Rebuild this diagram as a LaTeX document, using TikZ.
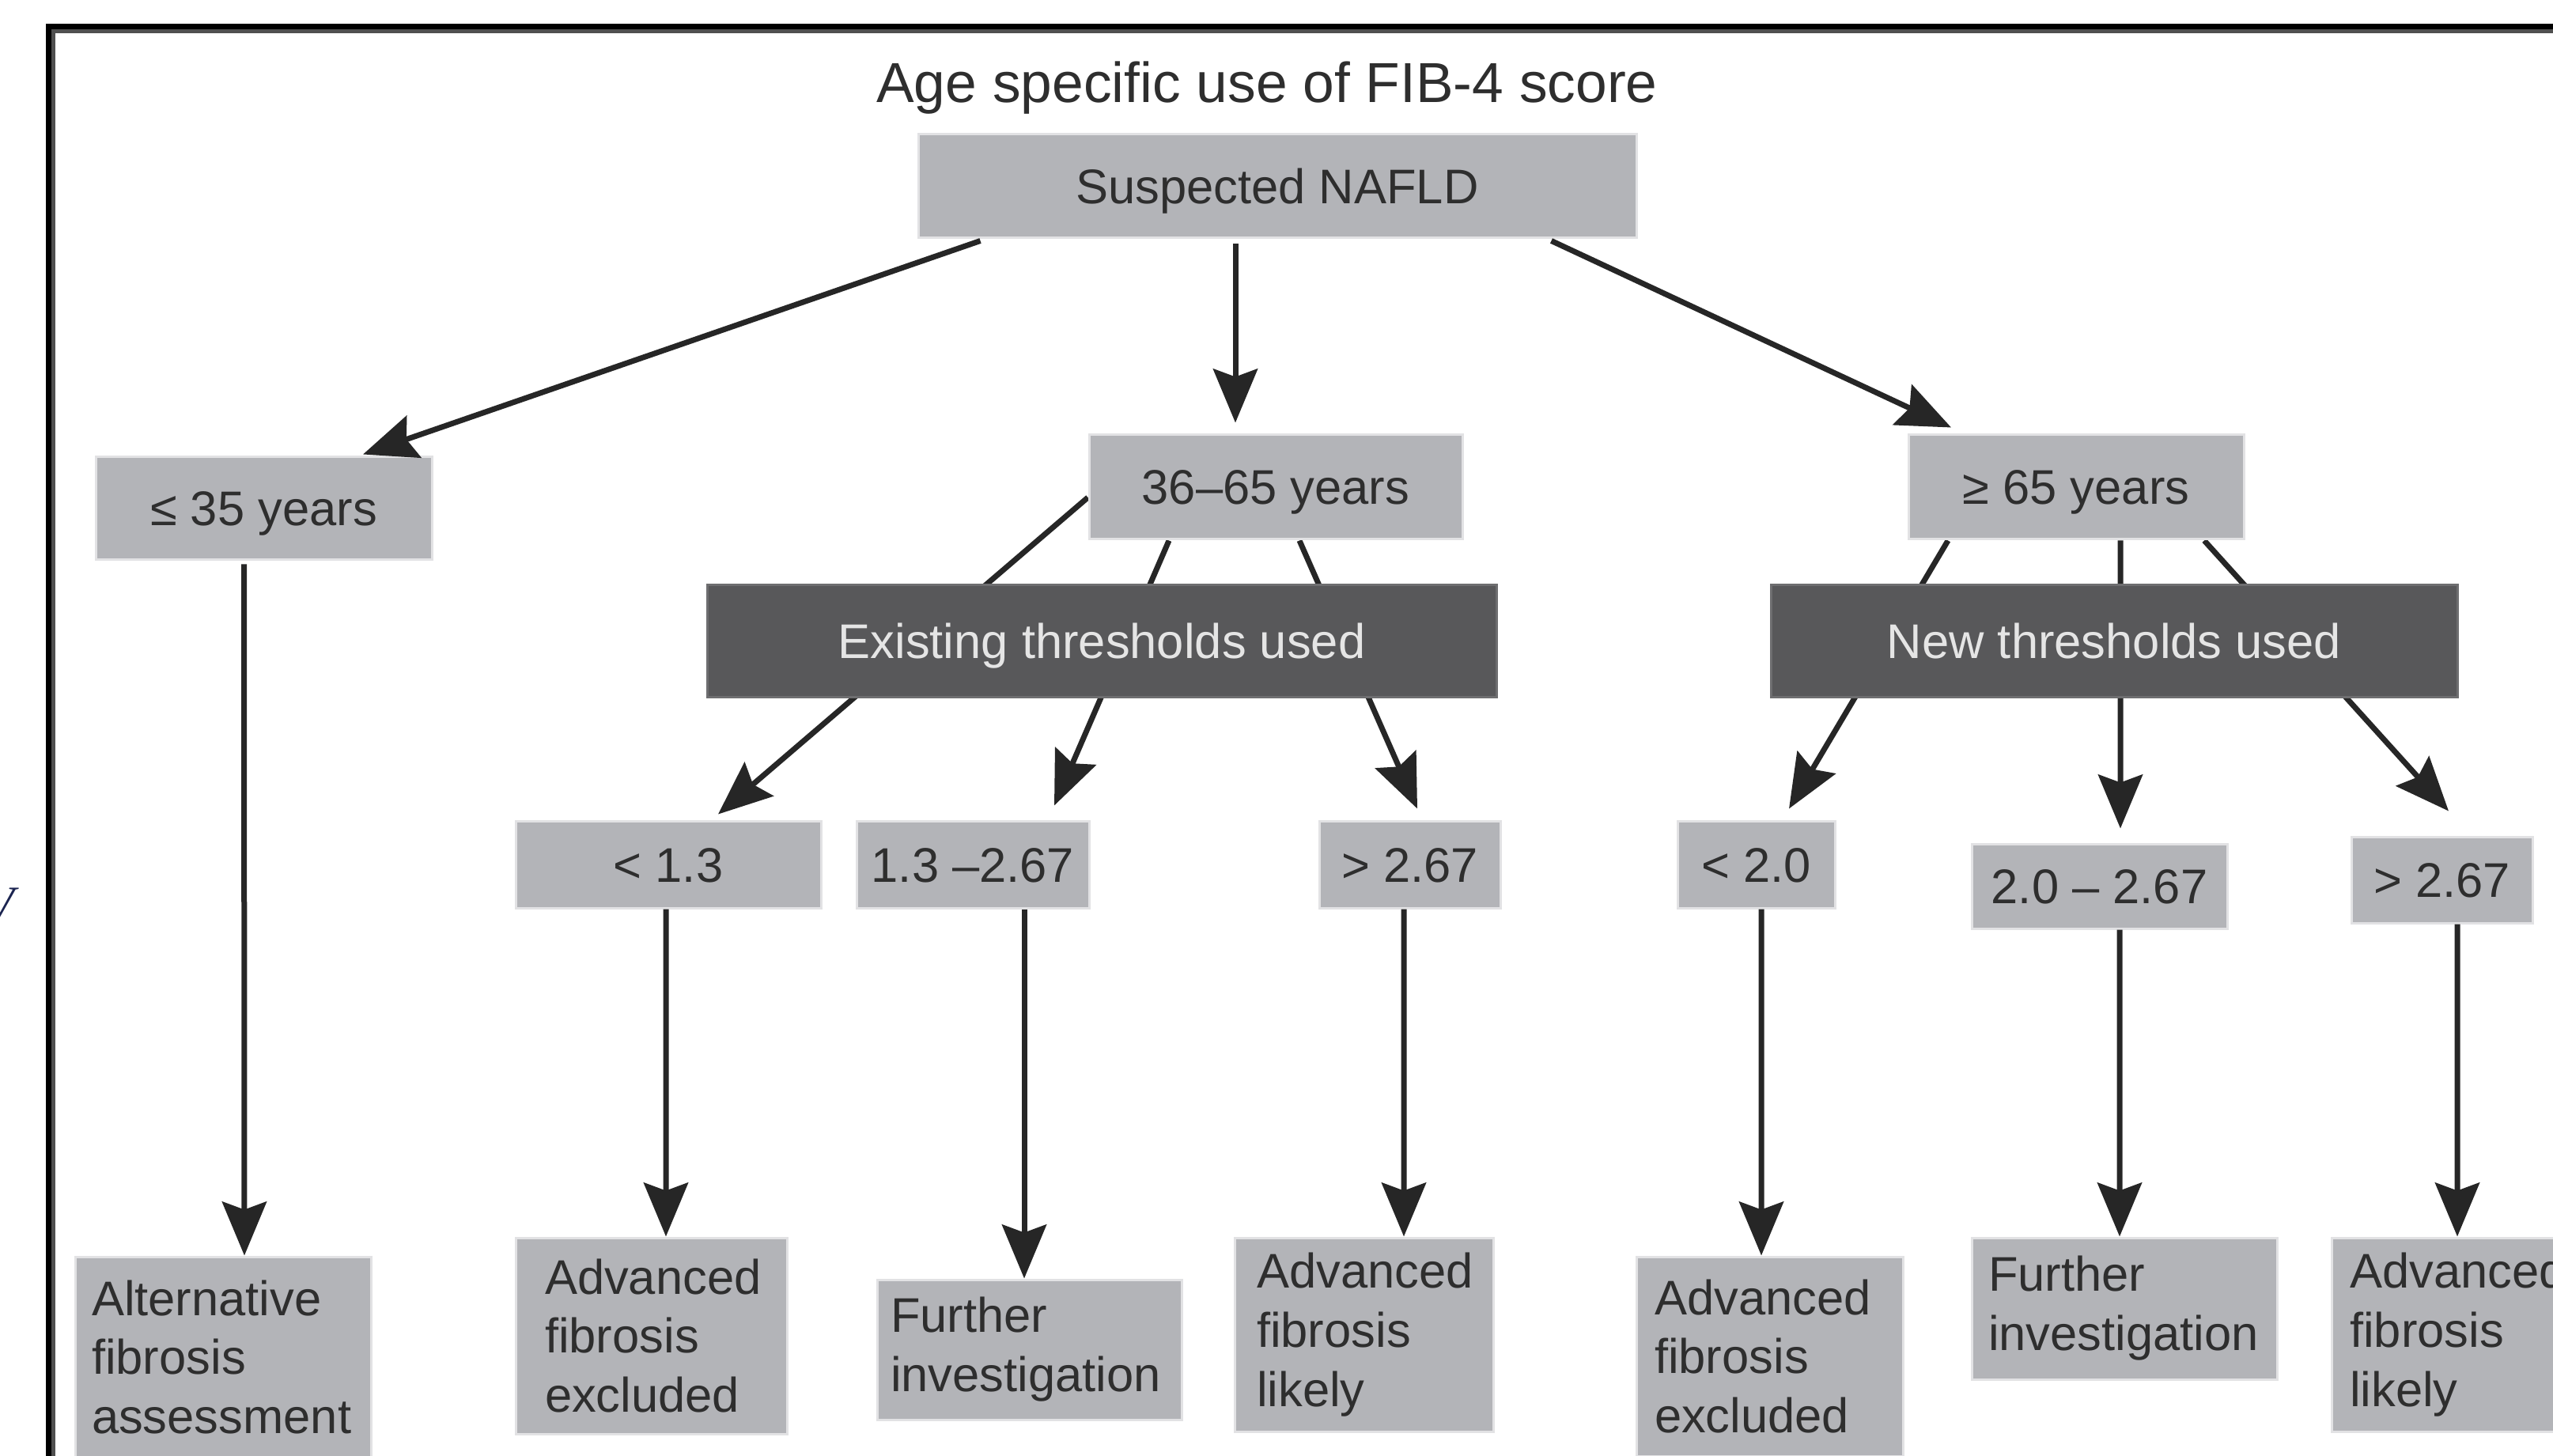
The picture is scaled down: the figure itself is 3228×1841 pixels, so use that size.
\documentclass[tikz,border=0pt]{standalone}
\usepackage{fontspec}
\setmainfont{Liberation Sans}
\newfontfamily\pageserif{Liberation Serif}
\usetikzlibrary{arrows.meta}
\usetikzlibrary{calc}
\usetikzlibrary{backgrounds}

\definecolor{boxgray}{HTML}{B3B4B8}
\definecolor{boxedge}{HTML}{E2E2E4}
\definecolor{darkfill}{HTML}{58585A}
\definecolor{darkedge}{HTML}{6E6E70}
\definecolor{inkgray}{HTML}{2E2E2E}
\definecolor{linegray}{HTML}{262626}
\definecolor{framegray}{HTML}{505050}
\definecolor{pagenavy}{HTML}{1B2450}

\begin{document}
\begin{tikzpicture}[x=0.1mm,y=-0.1mm,
  every node/.style={font=\fontsize{17.5}{21.3}\selectfont},
  lightbox/.style={fill=boxgray,draw=boxedge,line width=0.3mm,inner sep=0pt,text=inkgray,
    text height=4.4mm,text depth=0pt},
  darkbox/.style={fill=darkfill,draw=darkedge,line width=0.3mm,inner sep=0pt,text=white!90!black,
    text height=4.4mm,text depth=0pt},
  outbox/.style={fill=boxgray,draw=boxedge,line width=0.3mm,inner ysep=0pt,text=inkgray,align=left},
  arr/.style={draw=linegray,line width=0.7mm,-{Stealth[length=6.8mm,width=5.6mm,inset=1mm]}}]
  \useasboundingbox (0,0) rectangle (3228,1841);
  \draw[line width=0.7mm] (3260,34) -| (61.5,1860);
  \draw[line width=0.5mm,framegray] (3260,39.5) -| (67.5,1860);
  \node[font=\fontsize{17.2}{20}\selectfont\pageserif\itshape,text=pagenavy,anchor=base east,inner sep=0pt] (pagev) at (19,1162) {V};

  \node[font=\fontsize{20.3}{24}\selectfont,text=inkgray,anchor=base] (title) at (1602,129.5) {Age specific use of FIB-4 score};
  \node[lightbox,minimum width=90.8mm,minimum height=13.1mm] (nafld) at (1615,235.5) {Suspected NAFLD};

  \node[lightbox,minimum width=42.5mm,minimum height=13mm] (age1) at (333.5,643) {≤ 35 years};
  \node[lightbox,minimum width=47.2mm,minimum height=13.2mm] (age2) at (1613,616) {36–65 years};
  \node[lightbox,minimum width=42.4mm,minimum height=13.2mm] (age3) at (2625,616) {≥ 65 years};

  \node[darkbox,minimum width=99.8mm,minimum height=14.2mm] (old) at (1393,811) {Existing thresholds used};
  \node[darkbox,minimum width=86.8mm,minimum height=14.2mm] (new) at (2673,811) {New thresholds used};

  \node[lightbox,minimum width=38.6mm,minimum height=11mm] (t1) at (845,1093) {< 1.3};
  \node[lightbox,minimum width=29.4mm,minimum height=11mm] (t2) at (1230,1093) {1.3 –2.67};
  \node[lightbox,minimum width=22.9mm,minimum height=11mm] (t3) at (1782.5,1093) {> 2.67};
  \node[lightbox,minimum width=19.9mm,minimum height=11mm] (t4) at (2220.5,1093) {< 2.0};
  \node[lightbox,minimum width=32.3mm,minimum height=10.7mm] (t5) at (2654.5,1120.5) {2.0 – 2.67};
  \node[lightbox,minimum width=22.9mm,minimum height=10.9mm] (t6) at (3087.5,1112.5) {> 2.67};

  \node[outbox,inner xsep=2.1mm,text width=33.2mm,minimum height=25.4mm] (o0) at (282,1716) {Alternative\\fibrosis\\assessment};
  \node[outbox,inner xsep=3.7mm,text width=26.9mm,minimum height=24.8mm] (o1) at (823.5,1689) {Advanced\\fibrosis\\excluded};
  \node[outbox,inner xsep=1.7mm,text width=35.1mm,minimum height=17.7mm] (o2) at (1301.5,1706.5) {Further\\investigation};
  \node[outbox,inner xsep=2.8mm,text width=27.1mm,minimum height=24.5mm] (o3) at (1724.5,1687.5) {Advanced\\fibrosis\\likely};
  \node[outbox,inner xsep=2.3mm,text width=29.1mm,minimum height=25.2mm] (o4) at (2237.5,1715) {Advanced\\fibrosis\\excluded};
  \node[outbox,inner xsep=2.1mm,text width=34.4mm,minimum height=17.9mm] (o5) at (2686,1654.5) {Further\\investigation};
  \node[outbox,inner xsep=2.3mm,text width=28.1mm,minimum height=24.5mm] (o6) at (3111.5,1687.5) {Advanced\\fibrosis\\likely};

  \draw[arr] ($(nafld.south west)+(80,2)$) -- ($(age1.north)+(125.5,-2)$);
  \draw[arr] ($(nafld.south)+(-53,6)$) -- ($(age2.north)+(-51,-14)$);
  \draw[arr] ($(nafld.south east)+(-109,2)$) -- ($(age3.north)+(-158,-8)$);

  \begin{scope}[on background layer]
    \draw[arr] ($(age2.west)+(0,13)$) -- ($(t1.north)+(63,-7)$);
    \draw[arr] ($(age2.south)+(-135,0)$) -- ($(t2.north)+(103,-18)$);
    \draw[arr] ($(age2.south)+(30,0)$) -- ($(t3.north)+(9.5,-14)$);
    \draw[arr] ($(age3.south)+(-162,0)$) -- ($(t4.north)+(41.5,-14)$);
    \draw[arr] ($(age3.south)+(56,0)$) -- ($(t5.north)+(26.5,-18)$);
    \draw[arr] ($(age3.south)+(162,0)$) -- ($(t6.north)+(8.5,-31)$);
  \end{scope}

  \draw[arr] ($(age1.south)+(-25,4)$) -- ($(o0.north)+(27,0)$);
  \draw[arr] ($(t1.south)+(-3,0)$) -- ($(o1.north)+(18.5,0)$);
  \draw[arr] ($(t2.south)+(65,0)$) -- ($(o2.north)+(-6.5,0)$);
  \draw[arr] ($(t3.south)+(-7.5,0)$) -- ($(o3.north)+(50.5,0)$);
  \draw[arr] ($(t4.south)+(6.5,0)$) -- ($(o4.north)+(-10.5,0)$);
  \draw[arr] ($(t5.south)+(25.5,0)$) -- ($(o5.north)+(-6,0)$);
  \draw[arr] ($(t6.south)+(19.5,0)$) -- ($(o6.north)+(-4.5,0)$);
\end{tikzpicture}
\end{document}
